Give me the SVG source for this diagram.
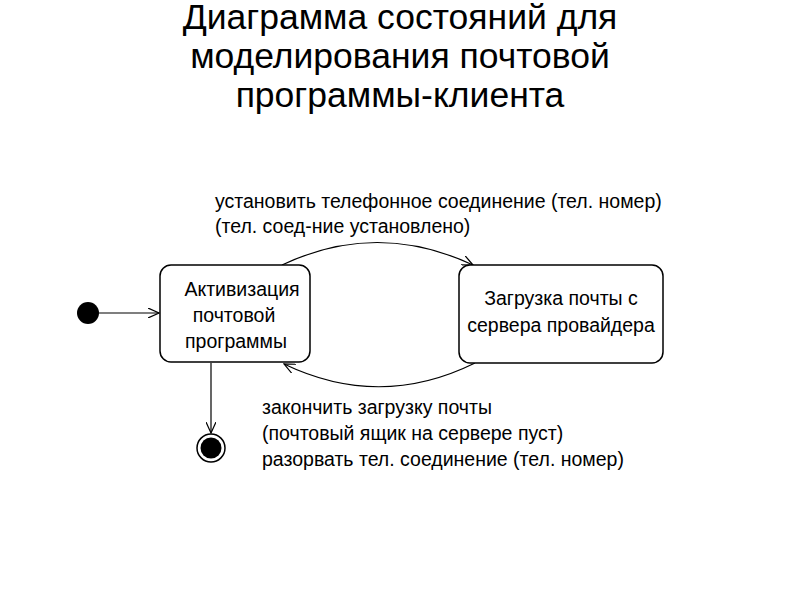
<svg xmlns="http://www.w3.org/2000/svg" width="800" height="600" viewBox="0 0 800 600">
<defs>
<style>
.t{font-family:"Liberation Sans",Arial,sans-serif;fill:#000}
.title{font-size:35.5px;text-anchor:middle}
.lbl{font-size:19.5px}
.st{font-size:19.5px;text-anchor:middle}
.box{fill:#fff;stroke:#000;stroke-width:1.5}
.edge{fill:none;stroke:#000;stroke-width:1.2}
</style>
<marker id="arr" viewBox="0 0 12 10" refX="11" refY="5" markerWidth="12" markerHeight="10" markerUnits="userSpaceOnUse" orient="auto">
<path d="M0,0 L11,5 L0,10" fill="none" stroke="#000" stroke-width="1.2"/>
</marker>
</defs>
<rect width="800" height="600" fill="#fff"/>
<g id="title" class="t title">
<text x="400" y="29">Диаграмма состояний для</text>
<text x="400" y="68">моделирования почтовой</text>
<text x="400" y="107">программы-клиента</text>
</g>
<g id="connectors">
<line class="edge" x1="99" y1="313" x2="159" y2="313" marker-end="url(#arr)"/>
<path class="edge" d="M282,265 Q377,220 473,265" marker-end="url(#arr)"/>
<path class="edge" d="M475,363 Q380,410 284,364" marker-end="url(#arr)"/>
<line class="edge" x1="211" y1="363" x2="211" y2="433" marker-end="url(#arr)"/>
</g>
<g id="initial"><circle cx="88" cy="313" r="11" fill="#000"/></g>
<g id="final">
<circle cx="211" cy="448" r="14" fill="#fff" stroke="#000" stroke-width="1.5"/>
<circle cx="211" cy="448" r="10.5" fill="#000"/>
</g>
<g id="activate">
<rect class="box" x="160" y="265" width="150" height="97" rx="11"/>
<text class="t st" x="242" y="296">Активизация</text>
<text class="t st" x="234" y="322">почтовой</text>
<text class="t st" x="236" y="348">программы</text>
</g>
<g id="download">
<rect class="box" x="459" y="265" width="204" height="98" rx="11"/>
<text class="t st" x="561" y="305">Загрузка почты с</text>
<text class="t st" x="561" y="332">сервера провайдера</text>
</g>
<g id="labels" class="t lbl">
<text x="215" y="208">установить телефонное соединение (тел. номер)</text>
<text x="215" y="233">(тел. соед-ние установлено)</text>
<text x="262" y="414">закончить загрузку почты</text>
<text x="262" y="440">(почтовый ящик на сервере пуст)</text>
<text x="262" y="466">разорвать тел. соединение (тел. номер)</text>
</g>
</svg>
